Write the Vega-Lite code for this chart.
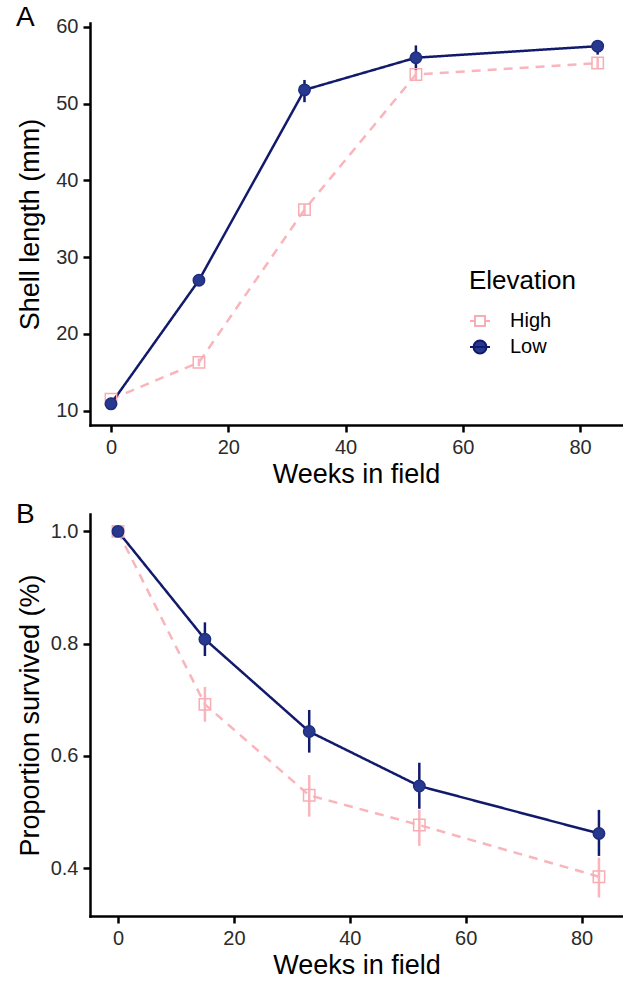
{
  "$schema": "https://vega.github.io/schema/vega-lite/v6.json",
  "background": "white",
  "padding": {"top": 3, "left": 16, "right": 0, "bottom": 0},
  "datasets": {
    "shell": [
      {"Elevation": "High", "week": 0, "mean": 11.5, "lo": 11.2, "hi": 11.8},
      {"Elevation": "High", "week": 15, "mean": 16.3, "lo": 15.8, "hi": 16.8},
      {"Elevation": "High", "week": 33, "mean": 36.2, "lo": 35.5, "hi": 36.9},
      {"Elevation": "High", "week": 52, "mean": 53.8, "lo": 53.0, "hi": 54.6},
      {"Elevation": "High", "week": 83, "mean": 55.3, "lo": 54.6, "hi": 56.0},
      {"Elevation": "Low", "week": 0, "mean": 10.9, "lo": 10.6, "hi": 11.2},
      {"Elevation": "Low", "week": 15, "mean": 27.0, "lo": 26.5, "hi": 27.5},
      {"Elevation": "Low", "week": 33, "mean": 51.8, "lo": 50.2, "hi": 53.1},
      {"Elevation": "Low", "week": 52, "mean": 56.0, "lo": 54.4, "hi": 57.6},
      {"Elevation": "Low", "week": 83, "mean": 57.5, "lo": 56.4, "hi": 58.3}
    ],
    "surv": [
      {"Elevation": "High", "week": 0, "mean": 1.0, "lo": 1.0, "hi": 1.0},
      {"Elevation": "High", "week": 15, "mean": 0.692, "lo": 0.661, "hi": 0.723},
      {"Elevation": "High", "week": 33, "mean": 0.53, "lo": 0.492, "hi": 0.566},
      {"Elevation": "High", "week": 52, "mean": 0.477, "lo": 0.44, "hi": 0.504},
      {"Elevation": "High", "week": 83, "mean": 0.385, "lo": 0.348, "hi": 0.419},
      {"Elevation": "Low", "week": 0, "mean": 1.0, "lo": 1.0, "hi": 1.0},
      {"Elevation": "Low", "week": 15, "mean": 0.808, "lo": 0.778, "hi": 0.838},
      {"Elevation": "Low", "week": 33, "mean": 0.6435, "lo": 0.606, "hi": 0.682},
      {"Elevation": "Low", "week": 52, "mean": 0.5465, "lo": 0.506, "hi": 0.588},
      {"Elevation": "Low", "week": 83, "mean": 0.462, "lo": 0.422, "hi": 0.504}
    ]
  },
  "columns": 1,
  "spacing": 14,
  "resolve": {
    "scale": {"color": "independent", "shape": "independent", "stroke": "independent", "fill": "independent", "strokeDash": "independent"},
    "legend": {"color": "independent", "shape": "independent", "stroke": "independent", "fill": "independent", "strokeDash": "independent"}
  },
  "concat": [
    {
      "title": {"text": "A"},
      "width": 532,
      "height": 402,
      "data": {"name": "shell"},
      "encoding": {
        "x": {"field": "week", "type": "quantitative", "scale": {"domain": [-3.58, 87.15], "nice": false, "zero": false}, "axis": {"values": [0, 20, 40, 60, 80], "title": "Weeks in field"}}
      },
      "resolve": {
        "scale": {"shape": "independent", "stroke": "independent", "fill": "independent"},
        "legend": {"shape": "independent", "stroke": "independent", "fill": "independent"}
      },
      "layer": [
        {
          "mark": {"type": "line", "strokeWidth": 2.5},
          "encoding": {
            "y": {"field": "mean", "type": "quantitative", "scale": {"domain": [8.14, 60.52], "nice": false, "zero": false}, "axis": {"values": [10, 20, 30, 40, 50, 60], "title": "Shell length (mm)", "minExtent": 40, "maxExtent": 40}},
            "color": {"field": "Elevation", "type": "nominal", "scale": {"domain": ["Low", "High"], "range": ["#121a6c", "#f9b5bb"]}, "legend": null},
            "strokeDash": {"field": "Elevation", "type": "nominal", "scale": {"domain": ["Low", "High"], "range": [[1, 0], [9, 7]]}, "legend": null}
          }
        },
        {
          "mark": {"type": "rule", "strokeWidth": 2.5},
          "encoding": {
            "y": {"field": "lo", "type": "quantitative"},
            "y2": {"field": "hi"},
            "color": {"field": "Elevation", "type": "nominal", "legend": null}
          }
        },
        {
          "mark": {"type": "point", "size": 130, "strokeWidth": 1.5, "opacity": 1},
          "encoding": {
            "y": {"field": "mean", "type": "quantitative"},
            "shape": {"field": "Elevation", "type": "nominal", "scale": {"domain": ["Low", "High"], "range": ["circle", "square"]}, "legend": null},
            "stroke": {"field": "Elevation", "type": "nominal", "scale": {"domain": ["Low", "High"], "range": ["#1e2d7d", "#f7adb3"]}, "legend": null},
            "fill": {"field": "Elevation", "type": "nominal", "scale": {"domain": ["Low", "High"], "range": ["#27398f", "transparent"]}, "legend": null}
          }
        },
        {
          "mark": {"type": "point", "size": 1, "strokeWidth": 2, "opacity": 0},
          "encoding": {
            "y": {"field": "mean", "type": "quantitative"},
            "shape": {"field": "Elevation", "type": "nominal",
              "scale": {"domain": ["High", "Low"], "range": ["M-1,0H-0.5M0.5,0H1M-0.5,-0.5H0.5V0.5H-0.5Z", "M-1,0H1M0.65,0A0.65,0.65 0 1,1 -0.65,0A0.65,0.65 0 1,1 0.65,0Z"]},
              "legend": {
                "title": "Elevation", "orient": "none", "legendX": 379, "legendY": 245,
                "titleFontSize": 26, "titleFontWeight": "normal", "titleColor": "black", "titlePadding": 16,
                "labelFontSize": 20, "labelColor": "black", "labelOffset": 19, "rowPadding": 5,
                "symbolSize": 400, "symbolStrokeWidth": 2, "symbolOpacity": 1
              }
            },
            "stroke": {"field": "Elevation", "type": "nominal", "scale": {"domain": ["High", "Low"], "range": ["#f7adb3", "#121a6c"]}},
            "fill": {"field": "Elevation", "type": "nominal", "scale": {"domain": ["High", "Low"], "range": ["transparent", "#27398f"]}}
          }
        }
      ]
    },
    {
      "title": {"text": "B"},
      "width": 533,
      "height": 402,
      "data": {"name": "surv"},
      "encoding": {
        "x": {"field": "week", "type": "quantitative", "scale": {"domain": [-4.83, 87.15], "nice": false, "zero": false}, "axis": {"values": [0, 20, 40, 60, 80], "title": "Weeks in field"}}
      },
      "layer": [
        {
          "mark": {"type": "line", "strokeWidth": 2.5},
          "encoding": {
            "y": {"field": "mean", "type": "quantitative", "scale": {"domain": [0.315, 1.031], "nice": false, "zero": false}, "axis": {"values": [0.4, 0.6, 0.8, 1.0], "format": ".1f", "title": "Proportion survived (%)", "minExtent": 40, "maxExtent": 40}},
            "color": {"field": "Elevation", "type": "nominal", "scale": {"domain": ["Low", "High"], "range": ["#121a6c", "#f9b5bb"]}, "legend": null},
            "strokeDash": {"field": "Elevation", "type": "nominal", "scale": {"domain": ["Low", "High"], "range": [[1, 0], [9, 7]]}, "legend": null}
          }
        },
        {
          "mark": {"type": "rule", "strokeWidth": 2.5},
          "encoding": {
            "y": {"field": "lo", "type": "quantitative"},
            "y2": {"field": "hi"},
            "color": {"field": "Elevation", "type": "nominal", "legend": null}
          }
        },
        {
          "mark": {"type": "point", "size": 130, "strokeWidth": 1.5, "opacity": 1},
          "encoding": {
            "y": {"field": "mean", "type": "quantitative"},
            "shape": {"field": "Elevation", "type": "nominal", "scale": {"domain": ["Low", "High"], "range": ["circle", "square"]}, "legend": null},
            "stroke": {"field": "Elevation", "type": "nominal", "scale": {"domain": ["Low", "High"], "range": ["#1e2d7d", "#f7adb3"]}, "legend": null},
            "fill": {"field": "Elevation", "type": "nominal", "scale": {"domain": ["Low", "High"], "range": ["#27398f", "transparent"]}, "legend": null}
          }
        }
      ]
    }
  ],
  "config": {
    "font": "Liberation Sans",
    "view": {"stroke": null},
    "axis": {
      "grid": false,
      "domainColor": "black",
      "domainWidth": 2.5,
      "domainCap": "square",
      "tickColor": "black",
      "tickWidth": 2.5,
      "tickSize": 7,
      "labelFontSize": 20,
      "labelColor": "#2b2b2b",
      "labelPadding": 5,
      "labelFlush": false,
      "titleFontSize": 27,
      "titleFontWeight": "normal",
      "titleColor": "black",
      "titlePadding": 6
    },
    "axisX": {"titlePadding": 4},
    "title": {"fontSize": 28, "fontWeight": "normal", "anchor": "start", "frame": "bounds", "offset": -15, "baseline": "alphabetic", "color": "black"}
  }
}
